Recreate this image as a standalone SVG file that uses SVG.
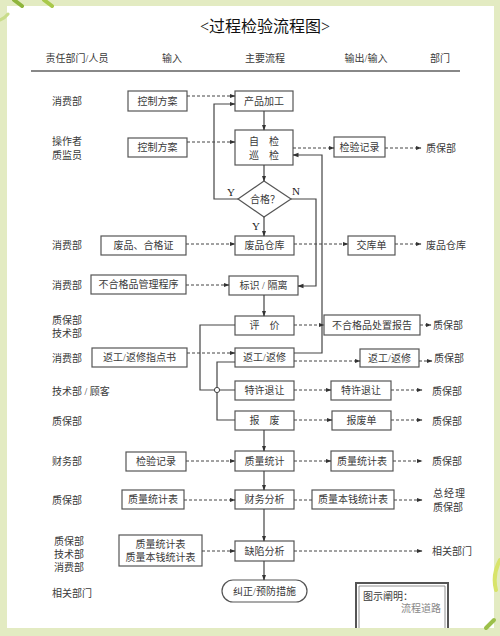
<svg xmlns="http://www.w3.org/2000/svg" width="500" height="636" viewBox="0 0 500 636">
<defs>
<marker id="ah" markerWidth="6" markerHeight="6" refX="5.5" refY="3" orient="auto" markerUnits="userSpaceOnUse"><path d="M0,0.8 L6,3 L0,5.2 z" fill="#333"/></marker>
<style>
text{font-family:"Liberation Serif","Noto Sans CJK SC",serif;fill:#3a3a3a;font-size:10px}
.c{text-anchor:middle;dominant-baseline:central}
.l{dominant-baseline:central}
.box{fill:#fff;stroke:#555;stroke-width:1.2}
.s{fill:none;stroke:#444;stroke-width:1.2}
.d{fill:none;stroke:#444;stroke-width:1;stroke-dasharray:3,2}
.a{marker-end:url(#ah)}
.yn{font-family:"Liberation Serif",serif;font-size:11px;fill:#222}
</style>
</defs>
<rect x="0" y="0" width="500" height="636" fill="#e3ebc2"/>
<rect x="7" y="6" width="487" height="622" fill="#fff"/>
<g id="decor" fill="none" stroke-linecap="round">
<path d="M14,0 L22,6" stroke="#8fb53c" stroke-width="4"/>
<path d="M44,0 L52,6" stroke="#a9c94a" stroke-width="4"/>
<path d="M0,20 Q5,18 8,14" stroke="#c9dc8a" stroke-width="3"/>
<path d="M500,560 Q492,575 496,590" stroke="#d8e46a" stroke-width="4"/>
<path d="M486,628 L494,620" stroke="#9cc04a" stroke-width="4"/>
</g>
<g id="title"><text x="265" y="26" class="c" style="font-size:16px;fill:#111">&lt;过程检验流程图&gt;</text></g>
<g id="header">
<text x="77" y="58" class="c">责任部门/人员</text>
<text x="172" y="58" class="c">输入</text>
<text x="265" y="58" class="c">主要流程</text>
<text x="366" y="58" class="c">输出/输入</text>
<text x="440" y="58" class="c">部门</text>
<line x1="31" y1="71" x2="460" y2="71" stroke="#888" stroke-width="1.8"/>
</g>
<g id="dept-labels">
<text x="52" y="101" class="l">消费部</text>
<text x="52" y="141" class="l">操作者</text>
<text x="52" y="155" class="l">质监员</text>
<text x="52" y="245" class="l">消费部</text>
<text x="52" y="285" class="l">消费部</text>
<text x="52" y="320" class="l">质保部</text>
<text x="52" y="333" class="l">技术部</text>
<text x="52" y="358" class="l">消费部</text>
<text x="52" y="391" class="l">技术部 / 顾客</text>
<text x="52" y="421" class="l">质保部</text>
<text x="52" y="461" class="l">财务部</text>
<text x="52" y="500" class="l">质保部</text>
<text x="54" y="541" class="l">质保部</text>
<text x="54" y="554" class="l">技术部</text>
<text x="54" y="567" class="l">消费部</text>
<text x="52" y="593" class="l">相关部门</text>
</g>
<g id="n-in1"><rect class="box" x="128" y="91" width="59" height="20"/><text x="157.5" y="101" class="c">控制方案</text></g>
<g id="n-in2"><rect class="box" x="128" y="138" width="59" height="19"/><text x="157.5" y="147.5" class="c">控制方案</text></g>
<g id="n-proc"><rect class="box" x="235" y="91" width="58" height="20"/><text x="264" y="101" class="c">产品加工</text></g>
<g id="n-check"><rect class="box" x="235" y="130" width="58" height="35"/><text x="264" y="141" class="c">自　检</text><text x="264" y="155" class="c">巡　检</text></g>
<g id="n-ok"><path class="box" d="M264,181 L291,199 L264,217 L238,199 z"/><text x="265" y="199" class="c">合格？</text></g>
<g id="n-rec1"><rect class="box" x="334" y="137" width="51" height="20"/><text x="359.5" y="147" class="c">检验记录</text></g>
<g id="n-in3"><rect class="box" x="101" y="236" width="85" height="19"/><text x="143.5" y="245.5" class="c">废品、合格证</text></g>
<g id="n-store"><rect class="box" x="235" y="236" width="59" height="19"/><text x="264.5" y="245.5" class="c">废品仓库</text></g>
<g id="n-slip"><rect class="box" x="348" y="236" width="47" height="19"/><text x="371.5" y="245.5" class="c">交库单</text></g>
<g id="n-in4"><rect class="box" x="91" y="275" width="95" height="19"/><text x="138.5" y="284.5" class="c">不合格品管理程序</text></g>
<g id="n-mark"><rect class="box" x="229" y="276" width="69" height="19"/><text x="263.5" y="285.5" class="c">标识 / 隔离</text></g>
<g id="n-eval"><rect class="box" x="235" y="316" width="59" height="19"/><text x="264.5" y="325.5" class="c">评　价</text></g>
<g id="n-report"><rect class="box" x="324" y="315" width="96" height="20"/><text x="372" y="325" class="c">不合格品处置报告</text></g>
<g id="n-in5"><rect class="box" x="92" y="348" width="95" height="19"/><text x="139.5" y="357.5" class="c">返工/返修指点书</text></g>
<g id="n-rework"><rect class="box" x="235" y="348" width="59" height="19"/><text x="264.5" y="357.5" class="c">返工/返修</text></g>
<g id="n-rework-out"><rect class="box" x="360" y="349" width="59" height="18"/><text x="389.5" y="358" class="c">返工/返修</text></g>
<g id="n-concess"><rect class="box" x="235" y="381" width="59" height="19"/><text x="264.5" y="390.5" class="c">特许退让</text></g>
<g id="n-concess-out"><rect class="box" x="331" y="381" width="60" height="19"/><text x="361" y="390.5" class="c">特许退让</text></g>
<g id="n-scrap"><rect class="box" x="235" y="411" width="59" height="19"/><text x="264.5" y="420.5" class="c">报　废</text></g>
<g id="n-scrap-out"><rect class="box" x="332" y="411" width="59" height="19"/><text x="361.5" y="420.5" class="c">报废单</text></g>
<g id="n-in6"><rect class="box" x="126" y="452" width="60" height="19"/><text x="156" y="461.5" class="c">检验记录</text></g>
<g id="n-stat"><rect class="box" x="235" y="451" width="59" height="20"/><text x="264.5" y="461" class="c">质量统计</text></g>
<g id="n-stat-out"><rect class="box" x="331" y="451" width="62" height="20"/><text x="362" y="461" class="c">质量统计表</text></g>
<g id="n-in7"><rect class="box" x="122" y="490" width="62" height="19"/><text x="153" y="499.5" class="c">质量统计表</text></g>
<g id="n-fin"><rect class="box" x="235" y="490" width="59" height="19"/><text x="264.5" y="499.5" class="c">财务分析</text></g>
<g id="n-fin-out"><rect class="box" x="312" y="490" width="82" height="19"/><text x="353" y="499.5" class="c">质量本钱统计表</text></g>
<g id="n-in8"><rect class="box" x="119" y="535" width="83" height="31"/><text x="160.5" y="544" class="c">质量统计表</text><text x="160.5" y="557" class="c">质量本钱统计表</text></g>
<g id="n-defect"><rect class="box" x="235" y="541" width="59" height="20"/><text x="264.5" y="551" class="c">缺陷分析</text></g>
<g id="n-action"><rect class="box" x="222" y="580" width="85" height="22" rx="11"/><text x="264.5" y="591" class="c">纠正/预防措施</text></g>
<g id="out-labels">
<text x="426" y="148" class="l">质保部</text>
<text x="426" y="245" class="l">废品仓库</text>
<text x="433" y="325" class="l">质保部</text>
<text x="434" y="358" class="l">质保部</text>
<text x="432" y="391" class="l">质保部</text>
<text x="432" y="421" class="l">质保部</text>
<text x="432" y="461" class="l">质保部</text>
<text x="433" y="493" class="l" style="letter-spacing:1px">总经理</text>
<text x="433" y="507" class="l">质保部</text>
<text x="432" y="551" class="l">相关部门</text>
</g>
<g id="legend">
<path d="M356,628 V583 H448 V628" fill="none" stroke="#555" stroke-width="2"/>
<path d="M359,628 V586 H445 V628" fill="none" stroke="#777" stroke-width="0.8"/>
<text x="363" y="596" class="l">图示阐明：</text>
<text x="441" y="608" class="l" style="text-anchor:end;fill:#888">流程道路</text>
</g>
<g id="connectors">
<path class="s a" d="M264,111 V130"/>
<path class="s a" d="M264,165 V181"/>
<path class="s a" d="M264,217 V236"/>
<path class="s a" d="M238,199 H214 V104 H235"/>
<path class="s a" d="M291,199 H316 V286 H298"/>
<path class="s a" d="M294,353 H322 V155 H293"/>
<path class="s a" d="M264,295 V316"/>
<path class="s" d="M235,325 H200 V390 H235"/>
<path class="s" d="M235,362 H217 V420 H235"/>
<circle cx="217" cy="390" r="2.6" fill="#fff" stroke="#444" stroke-width="1"/>
<path class="s a" d="M264,430 V451"/>
<path class="s a" d="M264,471 V490"/>
<path class="s a" d="M264,509 V541"/>
<path class="s a" d="M264,561 V580"/>
<path class="d a" d="M187,96 H235"/>
<path class="d a" d="M187,142 H235"/>
<path class="d a" d="M293,148 H334"/>
<path class="d a" d="M385,148 H421"/>
<path class="d a" d="M186,244 H235"/>
<path class="d a" d="M294,244 H348"/>
<path class="d a" d="M395,244 H421"/>
<path class="d a" d="M186,285 H229"/>
<path class="d a" d="M294,325 H324"/>
<path class="d a" d="M420,325 H431"/>
<path class="d a" d="M187,353 H235"/>
<path class="d a" d="M294,361 H360"/>
<path class="d a" d="M419,361 H432"/>
<path class="d a" d="M294,390 H331"/>
<path class="d a" d="M391,390 H422"/>
<path class="d a" d="M294,420 H332"/>
<path class="d a" d="M391,420 H422"/>
<path class="d a" d="M186,461 H235"/>
<path class="d a" d="M294,461 H331"/>
<path class="d a" d="M393,461 H422"/>
<path class="d a" d="M184,500 H235"/>
<path class="d" d="M294,500 H312"/>
<path class="d a" d="M394,500 H422"/>
<path class="d a" d="M202,551 H235"/>
<path class="d a" d="M294,551 H422"/>
</g>
<g id="branch-labels">
<text x="231" y="192" class="c yn">Y</text>
<text x="296" y="191" class="c yn">N</text>
<text x="256" y="226" class="c yn">Y</text>
</g>
</svg>
